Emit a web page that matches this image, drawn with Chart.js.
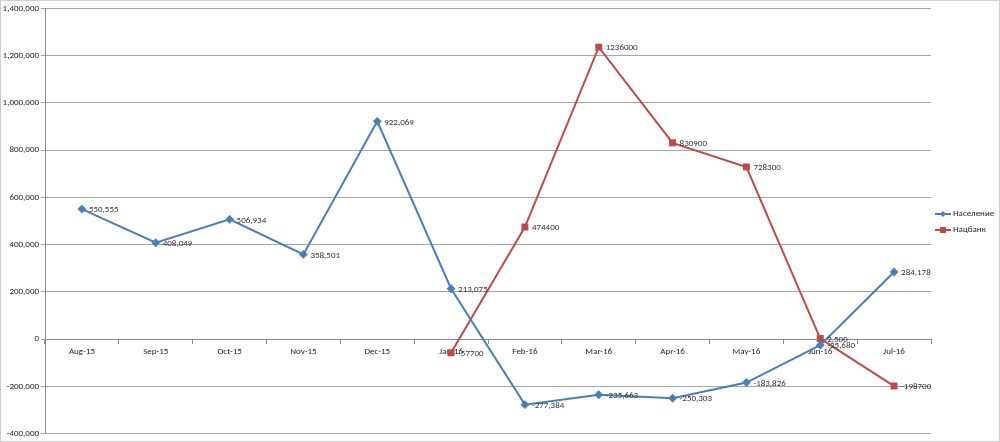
<!DOCTYPE html>
<html>
<head>
<meta charset="utf-8">
<script src="https://cdn.jsdelivr.net/npm/chart.js@4.4.1/dist/chart.umd.min.js"></script>
<style>
  html, body { margin: 0; padding: 0; background: #fff; }
  #wrap { width: 1000px; height: 442px; position: relative; box-sizing: border-box; border: 1px solid #d0d0d0; }
</style>
</head>
<body>
<div id="wrap"><canvas id="myChart"></canvas></div>
<script>
const months = ['Aug-15','Sep-15','Oct-15','Nov-15','Dec-15','Jan-16','Feb-16','Mar-16','Apr-16','May-16','Jun-16','Jul-16'];
const naselenie = [550555, 408049, 506934, 358501, 922069, 213075, -277384, -235663, -250303, -183826, -25680, 284178];
const natsbank = [null, null, null, null, null, -57700, 474400, 1236000, 830900, 728300, 2500, -198700];
const yTicks = [-400000, -200000, 0, 200000, 400000, 600000, 800000, 1000000, 1200000, 1400000];

const blue = '#4a7ebb';
const red = '#be4b48';
const fontFam = 'Carlito, Calibri, "Liberation Sans", Arial, sans-serif';

function fmtComma(v) { return v.toLocaleString('en-US'); }
function fmtRed(v) { return Math.abs(v) < 10000 ? fmtComma(v) : String(v); }

// labels next to the points, like Excel data labels
const pointLabels = {
  id: 'pointLabels',
  afterDatasetsDraw(chart) {
    const ctx = chart.ctx;
    ctx.save();
    ctx.font = '9px ' + fontFam;
    ctx.fillStyle = '#333';
    ctx.textBaseline = 'middle';
    ctx.textAlign = 'left';
    chart.data.datasets.forEach((ds, di) => {
      const meta = chart.getDatasetMeta(di);
      meta.data.forEach((pt, i) => {
        const v = ds.data[i];
        if (v === null) return;
        const txt = di === 0 ? fmtComma(v) : fmtRed(v);
        ctx.fillText(txt, pt.x + 7, pt.y + 1);
      });
    });
    ctx.restore();
  }
};

// legend on the right, line with marker
const sideLegend = {
  id: 'sideLegend',
  afterDraw(chart) {
    const ctx = chart.ctx;
    const x = chart.chartArea.right + 4;
    ctx.save();
    ctx.font = '9px ' + fontFam;
    ctx.textBaseline = 'middle';
    chart.data.datasets.forEach((ds, di) => {
      const y = 213 + di * 16;
      ctx.strokeStyle = ds.borderColor;
      ctx.lineWidth = 2;
      ctx.beginPath();
      ctx.moveTo(x, y);
      ctx.lineTo(x + 16, y);
      ctx.stroke();
      ctx.fillStyle = ds.borderColor;
      if (di === 0) {
        ctx.beginPath();
        ctx.moveTo(x + 8, y - 3);
        ctx.lineTo(x + 11, y);
        ctx.lineTo(x + 8, y + 3);
        ctx.lineTo(x + 5, y);
        ctx.closePath();
        ctx.fill();
      } else {
        ctx.fillRect(x + 5, y - 3, 6, 6);
      }
      ctx.fillStyle = '#222';
      ctx.fillText(ds.label, x + 18, y);
    });
    ctx.restore();
  }
};

const configuration = {
  type: 'line',
  data: {
    labels: months,
    datasets: [{
      label: 'Население',
      data: naselenie,
      borderColor: blue,
      backgroundColor: blue,
      borderWidth: 2,
      pointStyle: 'rectRot',
      pointRadius: 3,
      tension: 0
    }, {
      label: 'Нацбанк',
      data: natsbank,
      borderColor: red,
      backgroundColor: red,
      borderWidth: 2,
      pointStyle: 'rect',
      pointRadius: 3.5,
      tension: 0
    }]
  },
  options: {
    responsive: true,
    maintainAspectRatio: false,
    animation: false,
    layout: { padding: { top: 6, right: 68, bottom: 4, left: 0 } },
    plugins: {
      legend: { display: false },
      tooltip: { enabled: false }
    },
    scales: {
      x: {
        position: { y: 0 },
        offset: true,
        grid: {
          display: true,
          drawOnChartArea: false,
          tickLength: 4,
          color: '#888',
          offset: true
        },
        border: { color: '#888' },
        ticks: {
          color: '#222',
          font: { size: 9, family: fontFam },
          maxRotation: 0,
          padding: 3
        }
      },
      y: {
        min: -400000,
        max: 1400000,
        afterFit(scale) { scale.width = 44; },
        afterBuildTicks(scale) { scale.ticks = yTicks.map(v => ({ value: v })); },
        grid: { color: '#a6a6a6', tickLength: 4 },
        border: { color: '#888' },
        ticks: {
          color: '#222',
          font: { size: 9, family: fontFam },
          padding: 2,
          callback: v => fmtComma(v)
        }
      }
    }
  },
  plugins: [pointLabels, sideLegend]
};

let chart = new Chart(document.getElementById('myChart'), configuration);
</script>
</body>
</html>
